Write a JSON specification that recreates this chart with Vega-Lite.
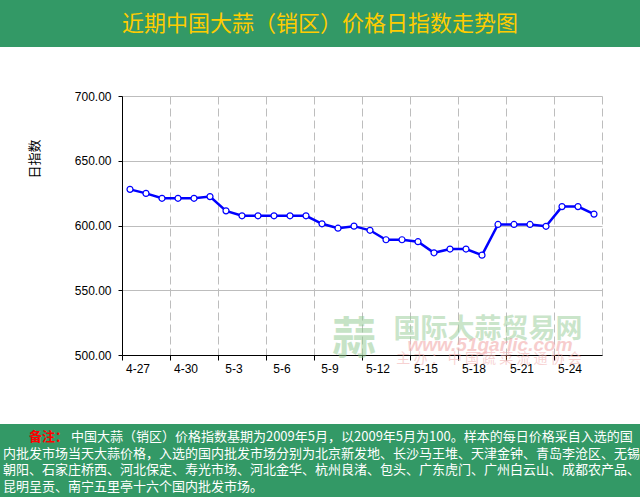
{
  "$schema": "https://vega.github.io/schema/vega-lite/v6.json",
  "background": "white",
  "padding": 0,
  "columns": 1,
  "align": "none",
  "spacing": 42,
  "config": {"view": {"stroke": null}, "font": "Liberation Sans"},
  "concat": [
    {
      "width": 640,
      "height": 47,
      "data": {"values": [{"title": "近期中国大蒜（销区）价格日指数走势图"}]},
      "layer": [
        {"mark": {"type": "rect", "color": "#339966"}, "encoding": {}},
        {
          "mark": {"type": "text", "color": "#FFCC00", "fontSize": 22, "font": "Noto Sans CJK SC"},
          "encoding": {"text": {"field": "title"}}
        }
      ]
    },
    {
      "hconcat": [
        {
          "width": 70,
          "height": 126,
          "data": {"values": [{"axisTitle": "日指数"}]},
          "mark": {"type": "text", "angle": 270, "fontSize": 13, "font": "Noto Sans CJK SC", "color": "#000000"},
          "encoding": {"text": {"field": "axisTitle"}}
        },
        {
          "width": 480,
          "height": 259,
          "view": {"stroke": "#BDBDBD", "strokeDash": [8, 4]},
          "data": {
            "values": [
              {"date": "4-27", "index": 627.9},
              {"date": "4-28", "index": 624.8},
              {"date": "4-29", "index": 621.0},
              {"date": "4-30", "index": 621.0},
              {"date": "5-1", "index": 621.0},
              {"date": "5-2", "index": 622.3},
              {"date": "5-3", "index": 611.3},
              {"date": "5-4", "index": 607.5},
              {"date": "5-5", "index": 607.5},
              {"date": "5-6", "index": 607.5},
              {"date": "5-7", "index": 607.5},
              {"date": "5-8", "index": 607.5},
              {"date": "5-9", "index": 601.3},
              {"date": "5-10", "index": 597.9},
              {"date": "5-11", "index": 599.5},
              {"date": "5-12", "index": 596.3},
              {"date": "5-13", "index": 589.0},
              {"date": "5-14", "index": 589.0},
              {"date": "5-15", "index": 587.5},
              {"date": "5-16", "index": 578.9},
              {"date": "5-17", "index": 581.8},
              {"date": "5-18", "index": 581.8},
              {"date": "5-19", "index": 577.1},
              {"date": "5-20", "index": 600.8},
              {"date": "5-21", "index": 600.8},
              {"date": "5-22", "index": 600.8},
              {"date": "5-23", "index": 599.4},
              {"date": "5-24", "index": 614.6},
              {"date": "5-25", "index": 614.6},
              {"date": "5-26", "index": 608.8}
            ]
          },
          "layer": [
            {
              "mark": {"type": "line", "color": "#0000FF", "strokeWidth": 2.5},
              "encoding": {
                "x": {
                  "field": "date",
                  "type": "ordinal",
                  "sort": null,
                  "scale": {
                    "type": "band",
                    "paddingInner": 0,
                    "paddingOuter": 0,
                    "domain": ["4-27","4-28","4-29","4-30","5-1","5-2","5-3","5-4","5-5","5-6","5-7","5-8","5-9","5-10","5-11","5-12","5-13","5-14","5-15","5-16","5-17","5-18","5-19","5-20","5-21","5-22","5-23","5-24","5-25","5-26"]
                  },
                  "axis": {
                    "values": ["4-27","4-30","5-3","5-6","5-9","5-12","5-15","5-18","5-21","5-24"],
                    "bandPosition": 0,
                    "labelOffset": 8,
                    "labelAngle": 0,
                    "grid": true,
                    "gridColor": "#BDBDBD",
                    "gridDash": [8, 4],
                    "domainColor": "#000000",
                    "tickColor": "#000000",
                    "tickSize": 5,
                    "labelPadding": 3,
                    "labelFontSize": 12,
                    "labelColor": "#000000",
                    "labelFont": "Liberation Sans",
                    "title": null,
                    "minExtent": 26,
                    "maxExtent": 26
                  }
                },
                "y": {
                  "field": "index",
                  "type": "quantitative",
                  "scale": {"domain": [500, 700], "nice": false, "zero": false},
                  "axis": {
                    "values": [500, 550, 600, 650, 700],
                    "format": ".2f",
                    "grid": true,
                    "gridColor": "#BDBDBD",
                    "domainColor": "#000000",
                    "tickColor": "#000000",
                    "tickSize": 4,
                    "labelPadding": 7,
                    "labelFontSize": 12,
                    "labelColor": "#000000",
                    "labelFont": "Liberation Sans",
                    "title": null,
                    "minExtent": 51,
                    "maxExtent": 51
                  }
                }
              }
            },
            {
              "mark": {"type": "point", "filled": true, "fill": "#FFFFFF", "stroke": "#0000FF", "strokeWidth": 1.2, "size": 36, "opacity": 1},
              "encoding": {
                "x": {"field": "date", "type": "ordinal", "sort": null},
                "y": {"field": "index", "type": "quantitative"}
              }
            },
            {
              "data": {"values": [{"wm": "蒜"}]},
              "mark": {"type": "text", "color": "#8FC98F", "opacity": 0.5, "fontSize": 44, "fontWeight": "bold", "font": "Noto Sans CJK SC"},
              "encoding": {
                "x": {"datum": "5-11", "type": "ordinal"},
                "y": {"datum": 510.5, "type": "quantitative"},
                "text": {"field": "wm"}
              }
            },
            {
              "data": {"values": [{"wm": "国际大蒜贸易网"}]},
              "mark": {"type": "text", "color": "#9FD09F", "opacity": 0.55, "fontSize": 27, "fontWeight": "bold", "font": "Noto Sans CJK SC"},
              "encoding": {
                "x": {"datum": "5-19", "type": "ordinal", "bandPosition": 0.875},
                "y": {"datum": 519.3, "type": "quantitative"},
                "text": {"field": "wm"}
              }
            },
            {
              "data": {"values": [{"wm": "www.51garlic.com"}]},
              "mark": {"type": "text", "color": "#F2A5A5", "opacity": 0.55, "fontSize": 19, "fontWeight": "bold", "fontStyle": "italic", "font": "Liberation Sans"},
              "encoding": {
                "x": {"datum": "5-19", "type": "ordinal", "bandPosition": 1},
                "y": {"datum": 507.7, "type": "quantitative"},
                "text": {"field": "wm"}
              }
            },
            {
              "data": {"values": [{"wm": "主 办 ： 中 国 蔬 菜 流 通 协 会"}]},
              "mark": {"type": "text", "color": "#F2AFAF", "opacity": 0.55, "fontSize": 14, "font": "Noto Sans CJK SC"},
              "encoding": {
                "x": {"datum": "5-19", "type": "ordinal", "bandPosition": 0.94},
                "y": {"datum": 496.9, "type": "quantitative"},
                "text": {"field": "wm"}
              }
            }
          ]
        }
      ],
      "spacing": 0
    },
    {
      "width": 640,
      "height": 74,
      "data": {"values": [{"note": "备注"}]},
      "mark": {"type": "rect", "color": "#339966"},
      "encoding": {},
      "title": {
        "text": "\u200b　　备注：",
        "subtitle": [
          "\u200b　　　　　 中国大蒜（销区）价格指数基期为2009年5月，以2009年5月为100。样本的每日价格采自入选的国",
          "内批发市场当天大蒜价格，入选的国内批发市场分别为北京新发地、长沙马王堆、天津金钟、青岛李沧区、无锡",
          "朝阳、石家庄桥西、河北保定、寿光市场、河北金华、杭州良渚、包头、广东虎门、广州白云山、成都农产品、",
          "昆明呈贡、南宁五里亭十六个国内批发市场。"
        ],
        "orient": "bottom",
        "anchor": "start",
        "frame": "group",
        "offset": -67,
        "dx": 3,
        "color": "#FF0000",
        "font": "Noto Sans CJK SC",
        "fontSize": 13,
        "fontWeight": "bold",
        "lineHeight": 16.5,
        "baseline": "top",
        "subtitleColor": "#FFFFFF",
        "subtitleFont": "Noto Sans CJK SC",
        "subtitleFontSize": 13,
        "subtitleFontWeight": "normal",
        "subtitleLineHeight": 16.5,
        "subtitlePadding": -13
      }
    }
  ]
}
